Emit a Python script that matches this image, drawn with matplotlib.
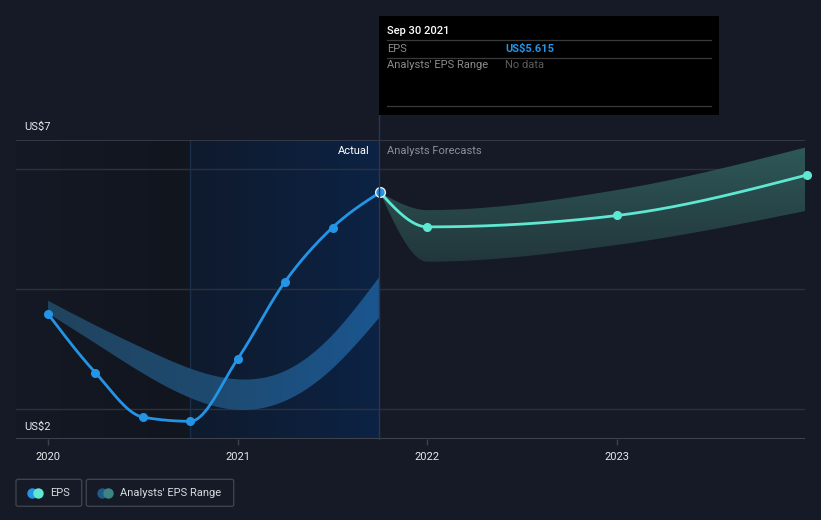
import numpy as np
import matplotlib
matplotlib.use("Agg")
import matplotlib.pyplot as plt
from matplotlib.patches import Rectangle, FancyBboxPatch, Polygon
from matplotlib.lines import Line2D
from matplotlib.colors import LinearSegmentedColormap

plt.rcParams['font.family'] = ['Roboto', 'DejaVu Sans']

# ---------------- data ----------------
eps_x = [2020.0, 2020.25, 2020.5, 2020.75, 2021.0, 2021.25, 2021.5, 2021.75]
eps_y = [3.59, 2.61, 1.87, 1.80, 2.84, 4.13, 5.03, 5.615]

fc_x = [2021.75, 2022.0, 2023.0, 2024.0]
fc_y = [5.615, 5.04, 5.23, 5.905]
fc_hi = [5.615, 5.32, 5.655, 6.37]
fc_lo = [5.615, 4.46, 4.74, 5.31]

past_x = [2020.0, 2020.25, 2020.5, 2020.75, 2021.0, 2021.25, 2021.5, 2021.75]
past_hi = [3.81, 3.40, 3.02, 2.68, 2.50, 2.64, 3.24, 4.22]
past_lo = [3.60, 3.10, 2.60, 2.19, 1.99, 2.14, 2.68, 3.54]

year_ticks = [2020, 2021, 2022, 2023]
year_labels = ["2020", "2021", "2022", "2023"]
grid_vals = [2, 4, 6]

# ---------------- helpers ----------------
W, H = 821, 520
BG = '#151a26'

def monotone(x, y, n=200):
    x = np.asarray(x, float); y = np.asarray(y, float)
    h = np.diff(x); d = np.diff(y) / h
    m = np.zeros_like(y)
    for i in range(1, len(x) - 1):
        if d[i-1] * d[i] <= 0:
            m[i] = 0
        else:
            m[i] = (np.sign(d[i-1]) + np.sign(d[i])) * min(abs(d[i-1]), abs(d[i]),
                    0.5 * abs((h[i-1]*d[i] + h[i]*d[i-1]) / (h[i-1] + h[i])))
    m[0] = (3*d[0] - m[1]) / 2 if len(x) > 2 else d[0]
    m[-1] = (3*d[-1] - m[-2]) / 2 if len(x) > 2 else d[-1]
    return hermite(x, y, m, n)

def hermite(x, y, m, n):
    h = np.diff(x)
    xs, ys = [], []
    for i in range(len(x) - 1):
        t = np.linspace(0, 1, n)
        hh = h[i]
        h00 = 2*t**3 - 3*t**2 + 1; h10 = t**3 - 2*t**2 + t
        h01 = -2*t**3 + 3*t**2; h11 = t**3 - t**2
        yy = h00*y[i] + h10*hh*m[i] + h01*y[i+1] + h11*hh*m[i+1]
        xs.append(x[i] + t*hh); ys.append(yy)
    return np.concatenate(xs), np.concatenate(ys)

def natural(x, y, n=200):
    x = np.asarray(x, float); y = np.asarray(y, float)
    k = len(x)
    h = np.diff(x)
    A = np.zeros((k, k)); b = np.zeros(k)
    A[0, 0] = 1; A[-1, -1] = 1
    for i in range(1, k - 1):
        A[i, i-1] = h[i-1]; A[i, i] = 2*(h[i-1] + h[i]); A[i, i+1] = h[i]
        b[i] = 3*((y[i+1]-y[i])/h[i] - (y[i]-y[i-1])/h[i-1])
    c = np.linalg.solve(A, b)
    xs, ys = [], []
    for i in range(k - 1):
        bb = (y[i+1]-y[i])/h[i] - h[i]*(2*c[i] + c[i+1])/3
        dd = (c[i+1] - c[i])/(3*h[i])
        t = np.linspace(0, h[i], n)
        xs.append(x[i] + t); ys.append(y[i] + bb*t + c[i]*t**2 + dd*t**3)
    return np.concatenate(xs), np.concatenate(ys)

def fx(px):
    return px / W

def fy(py):
    return 1 - py / H

fig = plt.figure(figsize=(W/100, H/100), dpi=100, facecolor=BG)

ax_l, ax_r, ax_t, ax_b = 16, 805, 140, 439.3
ax = fig.add_axes([fx(ax_l), fy(ax_b), (ax_r - ax_l)/W, (ax_b - ax_t)/H])
ax.set_facecolor(BG)
x0 = 2020 - (48 - ax_l) / 189.7
x1 = 2020 + (ax_r - 48) / 189.7
ylo = 2 - (ax_b - 409.3) / 60
yhi = 2 + (409.3 - ax_t) / 60
ax.set_xlim(x0, x1)
ax.set_ylim(ylo, yhi)
for s in ax.spines.values():
    s.set_visible(False)

# background regions
grad = np.linspace(0, 1, 256).reshape(1, -1)
cm_dark = LinearSegmentedColormap.from_list('d', ['#141925', '#11151e'])
ax.imshow(grad, cmap=cm_dark, extent=[x0, 2020.75, ylo, yhi], aspect='auto', zorder=0)
cm_hl = LinearSegmentedColormap.from_list('h', ['#0f1a2d', '#0c2344'])
ax.imshow(grad, cmap=cm_hl, extent=[2020.75, 2021.75, ylo, yhi], aspect='auto', zorder=0)
ax.axvline(2020.75, color='#1a2d4a', lw=1, zorder=1)

# gridlines
for g in grid_vals:
    ax.axhline(g, color='#2c313c', lw=1, zorder=1)
ax.axhline(yhi - 0.005, color='#3a3f4b', lw=1.2, zorder=1)
ax.axhline(ylo + 0.005, color='#3d424d', lw=1.5, zorder=1)

# past analyst range band with gradient
pxh, pyh = natural(past_x, past_hi)
pxl, pyl = natural(past_x, past_lo)
poly = np.column_stack([np.concatenate([pxh, pxl[::-1]]), np.concatenate([pyh, pyl[::-1]])])
pp = Polygon(poly, closed=True, facecolor='none', edgecolor='none')
ax.add_patch(pp)
cm_band = LinearSegmentedColormap.from_list('b', ['#21445e', '#1e4a70', '#1b5690'])
im = ax.imshow(grad, cmap=cm_band, extent=[2020.0, 2021.75, ylo, yhi], aspect='auto', zorder=2)
im.set_clip_path(pp)

# forecast band with vertical gradient
fxh, fyh = monotone(fc_x, fc_hi)
fxl, fyl = monotone(fc_x, fc_lo)
poly2 = np.column_stack([np.concatenate([fxh, fxl[::-1]]), np.concatenate([fyh, fyl[::-1]])])
pp2 = Polygon(poly2, closed=True, facecolor='none', edgecolor='none')
ax.add_patch(pp2)
cm_fc = LinearSegmentedColormap.from_list('f', ['#213439', '#2f5a5a'])
vgrad = np.linspace(0, 1, 256).reshape(-1, 1)
im2 = ax.imshow(vgrad, cmap=cm_fc, extent=[2021.75, 2024.0, 4.3, 6.45], aspect='auto',
                origin='lower', zorder=2)
im2.set_clip_path(pp2)

# lines
ex, ey = monotone(eps_x, eps_y)
ax.plot(ex, ey, color='#2394e6', lw=2.0, zorder=4, solid_capstyle='round')
ax.plot(eps_x[:-1], eps_y[:-1], 'o', color='#2394e6', ms=5.5, zorder=5)
cx, cy = monotone(fc_x, fc_y)
ax.plot(cx, cy, color='#5ee8d2', lw=2.0, zorder=4, solid_capstyle='round')
ax.plot(fc_x[1:], fc_y[1:], 'o', color='#5ee8d2', ms=5.5, zorder=5, clip_on=False)
ax.plot([eps_x[-1]], [eps_y[-1]], 'o', color='#2394e6', ms=7, mec='#e8eef5', mew=1.0, zorder=6)

# ticks
ax.set_xticks(year_ticks)
ax.set_xticklabels(year_labels)
ax.set_yticks([])
ax.tick_params(axis='x', colors='#3d424d', length=4, width=1, pad=5, labelcolor='#e6e8ec', labelsize=8)

# vertical divider line through tooltip bottom
fig.add_artist(Line2D([fx(379), fx(379)], [fy(439), fy(115)], color='#2a3550', lw=1))

# labels
fig.text(fx(24), fy(127), "US$7", color='#e6e8ec', fontsize=8, va='center', ha='left')
fig.text(fx(24), fy(427), "US$2", color='#e6e8ec', fontsize=8, va='center', ha='left')
fig.text(fx(370), fy(151), "Actual", color='#ffffff', fontsize=8, va='center', ha='right')
fig.text(fx(387), fy(151), "Analysts Forecasts", color='#8a8f98', fontsize=8, va='center', ha='left')

# tooltip
fig.add_artist(Rectangle((fx(379), fy(115)), (719 - 379)/W, (115 - 16)/H,
                         facecolor='#000000', edgecolor='none', zorder=10))
for ly in [40, 57.5, 106.5]:
    fig.add_artist(Line2D([fx(387), fx(711)], [fy(ly), fy(ly)], color='#3a3a3a', lw=0.9, zorder=11))
fig.text(fx(387), fy(31), "Sep 30 2021", color='#ffffff', fontsize=8, va='center', ha='left',
         fontweight='medium', zorder=12)
fig.text(fx(387), fy(48.5), "EPS", color='#8c8c8c', fontsize=8, va='center', ha='left', zorder=12)
fig.text(fx(505), fy(48.5), "US$5.615", color='#2394e6', fontsize=8, va='center', ha='left',
         fontweight='bold', zorder=12)
fig.text(fx(387), fy(65.5), "Analysts' EPS Range", color='#8c8c8c', fontsize=8, va='center',
         ha='left', zorder=12)
fig.text(fx(505), fy(65.5), "No data", color='#5c5c5c', fontsize=8, va='center', ha='left', zorder=12)

# legend
def legend_box(x_l, x_r, c1, c2, label, tx):
    fig.add_artist(FancyBboxPatch((fx(x_l), fy(506.3)), (x_r - x_l)/W, (506.3 - 479.3)/H,
                                  boxstyle='round,pad=0,rounding_size=0.003',
                                  facecolor='none', edgecolor='#3e424b', lw=1))
    fig.add_artist(Line2D([fx(x_l + 16)], [fy(493)], marker='o', color=c1, ms=7.5, mew=0))
    fig.add_artist(Line2D([fx(x_l + 22)], [fy(493)], marker='o', color=c2, ms=7.5, mew=0))
    fig.text(fx(tx), fy(493), label, color='#d8dade', fontsize=8, va='center', ha='left')

legend_box(16, 81.7, '#2394e6', '#5ee8d2', "EPS", 50)
legend_box(86.3, 233.7, '#1f5a8a', '#3d8585', "Analysts' EPS Range", 120)

fig.savefig("out.png", dpi=100, facecolor=BG)
